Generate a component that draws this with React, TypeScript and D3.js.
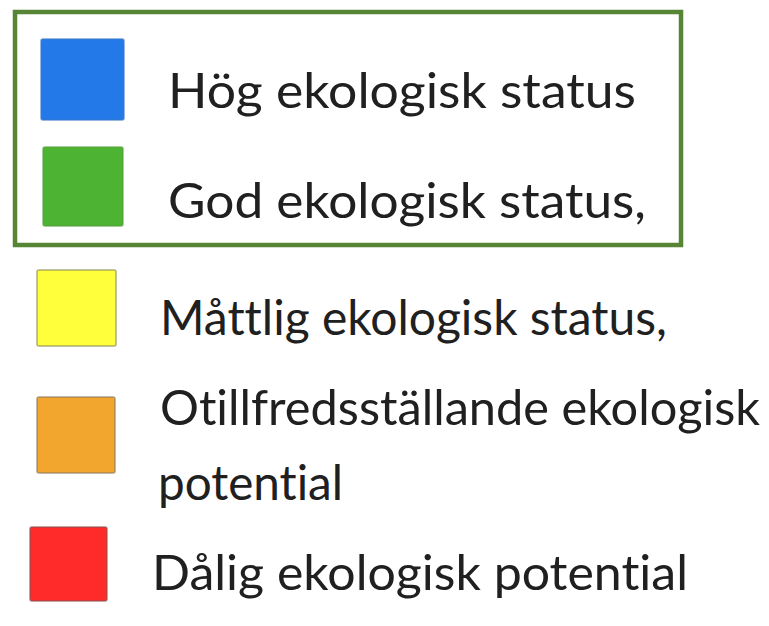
import React from "react";
import * as d3 from "d3";

// Legend data
const categories = [
  "Hög ekologisk status",
  "God ekologisk status,",
  "Måttlig ekologisk status,",
  "Otillfredsställande ekologisk|potential",
  "Dålig ekologisk potential",
];
const fillColors = ["#2379e8", "#4db332", "#ffff3c", "#f2a62e", "#ff2b2b"];
const strokeColors = ["#3a78c8", "#5aa040", "#8a8a55", "#8a7a60", "#8a5050"];

// Layout (not data)
const W = 769;
const H = 626;
const rowTop = [39, 147, 270, 397, 527];
const rowLeft = [41, 43, 37, 37, 30];
const swatchW = [83, 80, 79, 78, 77];
const swatchH = [81, 79, 76, 76, 74];
const textX = [168, 168, 160, 160, 152];
const baselines = [[108], [218], [335], [425, 500]];
const lastBase = [590];
const lineWidths = [[468], [478], [507], [600, 185], [536]];

export default function App() {
  const y = d3.scaleOrdinal<number, number>().domain(d3.range(categories.length)).range(rowTop);
  const allBase = [...baselines, lastBase];
  return (
    <svg width={W} height={H} style={{ position: "absolute", left: 0, top: 0, background: "#fff" }}>
      <rect x={15} y={12} width={666} height={233} fill="none" stroke="#568535" strokeWidth={4.5} />
      {categories.map((c, i) => {
        const lines = c.split("|");
        return (
          <g key={i}>
            <rect
              x={rowLeft[i]}
              y={y(i)}
              width={swatchW[i]}
              height={swatchH[i]}
              rx={2}
              fill={fillColors[i]}
              stroke={strokeColors[i]}
              strokeWidth={1.5}
              strokeOpacity={0.7}
            />
            {lines.map((l, j) => (
              <text
                key={j}
                x={textX[i] - (j > 0 ? 2 : 0)}
                y={allBase[i][j]}
                fontFamily="Lato, 'Noto Sans', sans-serif"
                fontWeight={400}
                fontSize={48}
                fill="#202020"
                style={{ fontVariantLigatures: "none" }}
                textLength={lineWidths[i][j]}
                lengthAdjust="spacingAndGlyphs"
              >
                {l}
              </text>
            ))}
          </g>
        );
      })}
    </svg>
  );
}
